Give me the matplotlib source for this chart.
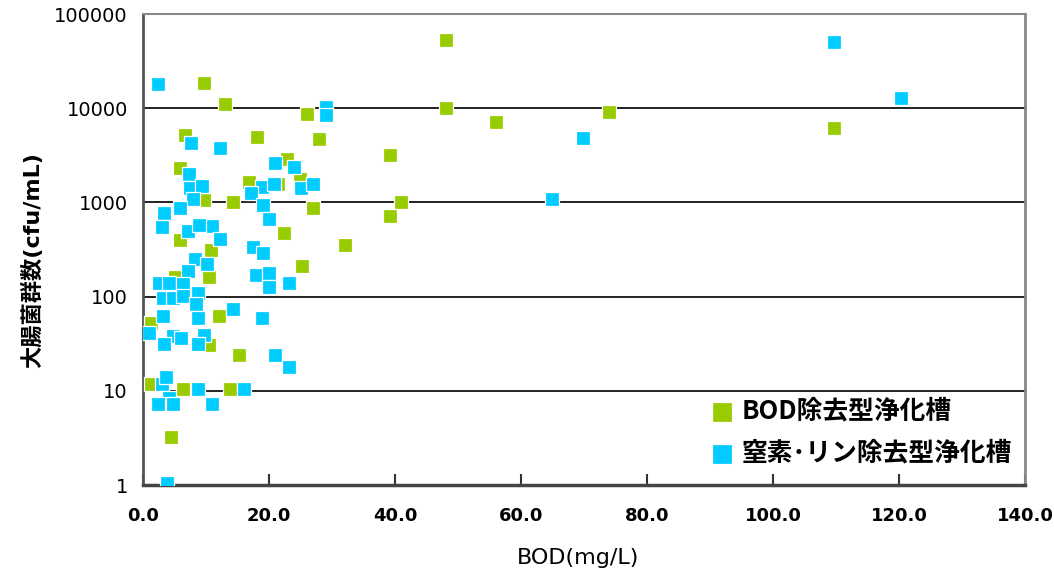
import matplotlib
matplotlib.use("Agg")
import matplotlib.pyplot as plt
from matplotlib.ticker import FixedLocator, FixedFormatter

plt.rcParams['font.family'] = ['Noto Sans CJK JP', 'DejaVu Sans']

bod_x = [9.7, 13.0, 26.1, 6.7, 18.1, 28.0, 5.9, 22.9, 16.8, 21.5, 24.9, 9.7, 14.3, 27.0, 22.3,
         5.9, 10.8, 25.3, 32.0, 5.0, 10.4, 12.1, 1.2, 10.5, 15.2, 1.3, 6.4, 13.8, 4.4,
         48.1, 48.1, 56.0, 73.9, 39.2, 39.2, 41.0, 109.7]
bod_y = [18700, 11000, 8600, 5200, 5000, 4750, 2340, 2900, 1660, 1570, 1770, 1060, 1020, 870, 470,
         400, 310, 213, 350, 162, 162, 62, 53, 30.6, 24, 11.8, 10.4, 10.4, 3.2,
         52800, 10000, 7100, 9100, 3170, 718, 1000, 6150]

np_x = [2.3, 29.1, 29.1, 7.6, 12.2, 7.3, 21.0, 24.0, 7.4, 9.3, 18.9, 20.8, 25.0, 27.0, 7.9, 17.1,
        3.4, 5.9, 3.0, 7.2, 10.9, 12.2, 8.9, 19.1, 20.0, 17.4, 19.1, 8.2, 10.2, 7.2, 17.9, 20.0,
        23.1, 2.6, 4.2, 6.4, 20.0, 3.1, 4.7, 6.4, 8.8, 8.4, 14.3, 3.1, 8.8, 18.9, 1.0, 4.7, 6.0,
        3.4, 9.7, 8.7, 21.0, 23.1, 3.0, 3.6, 8.7, 16.0, 4.2, 2.3, 4.7, 10.9, 3.8,
        109.7, 120.3, 69.9, 64.9]
np_y = [18000, 10400, 8500, 4300, 3800, 2000, 2650, 2400, 1440, 1500, 1470, 1570, 1440, 1550, 1100, 1250,
        770, 870, 550, 500, 565, 410, 575, 940, 670, 340, 290, 250, 220, 188, 170, 180,
        140, 140, 140, 136, 127, 97, 96, 101, 108, 83, 73, 62, 60, 60, 41, 38, 36,
        31.6, 39, 31.6, 24, 18, 11.7, 14, 10.4, 10.4, 8.3, 7.2, 7.2, 7.2, 1.06,
        50400, 12800, 4800, 1090]

x_ticks = [0, 20, 40, 60, 80, 100, 120, 140]
x_labels = ["0.0", "20.0", "40.0", "60.0", "80.0", "100.0", "120.0", "140.0"]
y_ticks = [1, 10, 100, 1000, 10000, 100000]
y_labels = ["1", "10", "100", "1000", "10000", "100000"]

series_names = ["BOD除去型浄化槽", "窒素･リン除去型浄化槽"]
green = "#99CC00"
blue = "#00CCFF"

fig = plt.figure(figsize=(10.54, 5.77), dpi=100)
ax = fig.add_axes([0.1357, 0.1594, 0.8368, 0.8163])

ax.set_yscale('log')
ax.set_xlim(0, 140)
ax.set_ylim(1, 100000)

for v in [10, 100, 1000, 10000]:
    ax.axhline(v, color='#222222', lw=1.4, zorder=1)

ax.scatter(bod_x, bod_y, marker='s', s=88, c=green, edgecolors='white', linewidths=0.9,
           zorder=3, label=series_names[0])
ax.scatter(np_x, np_y, marker='s', s=88, c=blue, edgecolors='white', linewidths=0.9,
           zorder=4, label=series_names[1])

ax.xaxis.set_major_locator(FixedLocator(x_ticks))
ax.xaxis.set_major_formatter(FixedFormatter(x_labels))
ax.yaxis.set_major_locator(FixedLocator(y_ticks))
ax.yaxis.set_major_formatter(FixedFormatter(y_labels))
ax.yaxis.set_minor_locator(FixedLocator([]))

ax.tick_params(axis='x', direction='in', length=8, width=1.5, color='#333333', pad=16)
ax.tick_params(axis='y', direction='in', length=0, pad=11)

for lab in ax.get_xticklabels():
    lab.set_fontfamily('DejaVu Sans')
    lab.set_fontweight('bold')
    lab.set_fontsize(13)
for lab in ax.get_yticklabels():
    lab.set_fontfamily('DejaVu Sans')
    lab.set_fontsize(14)

ax.spines['left'].set_color('#555555')
ax.spines['left'].set_linewidth(2)
ax.spines['bottom'].set_color('#444444')
ax.spines['bottom'].set_linewidth(2.5)
ax.spines['top'].set_color('#888888')
ax.spines['top'].set_linewidth(1.5)
ax.spines['right'].set_color('#888888')
ax.spines['right'].set_linewidth(2)

ax.set_xlabel("BOD(mg/L)", fontsize=16, family=['DejaVu Sans'])
ax.xaxis.set_label_coords(0.493, -0.134)
ax.set_ylabel("大腸菌群数(cfu/mL)", fontsize=16, fontweight='bold',
              family=['DejaVu Sans', 'Noto Sans CJK JP'])
ax.yaxis.set_label_coords(-0.113, 0.478)

leg = ax.legend(loc='center left', bbox_to_anchor=(0.651, 0.2513), bbox_transform=fig.transFigure,
                frameon=False, prop={'size': 18.5, 'weight': 'bold'}, markerscale=1.6,
                handlelength=1.0, handletextpad=0.25, labelspacing=0.6, borderpad=0.4,
                scatterpoints=1)

fig.savefig("out.png", dpi=100)
